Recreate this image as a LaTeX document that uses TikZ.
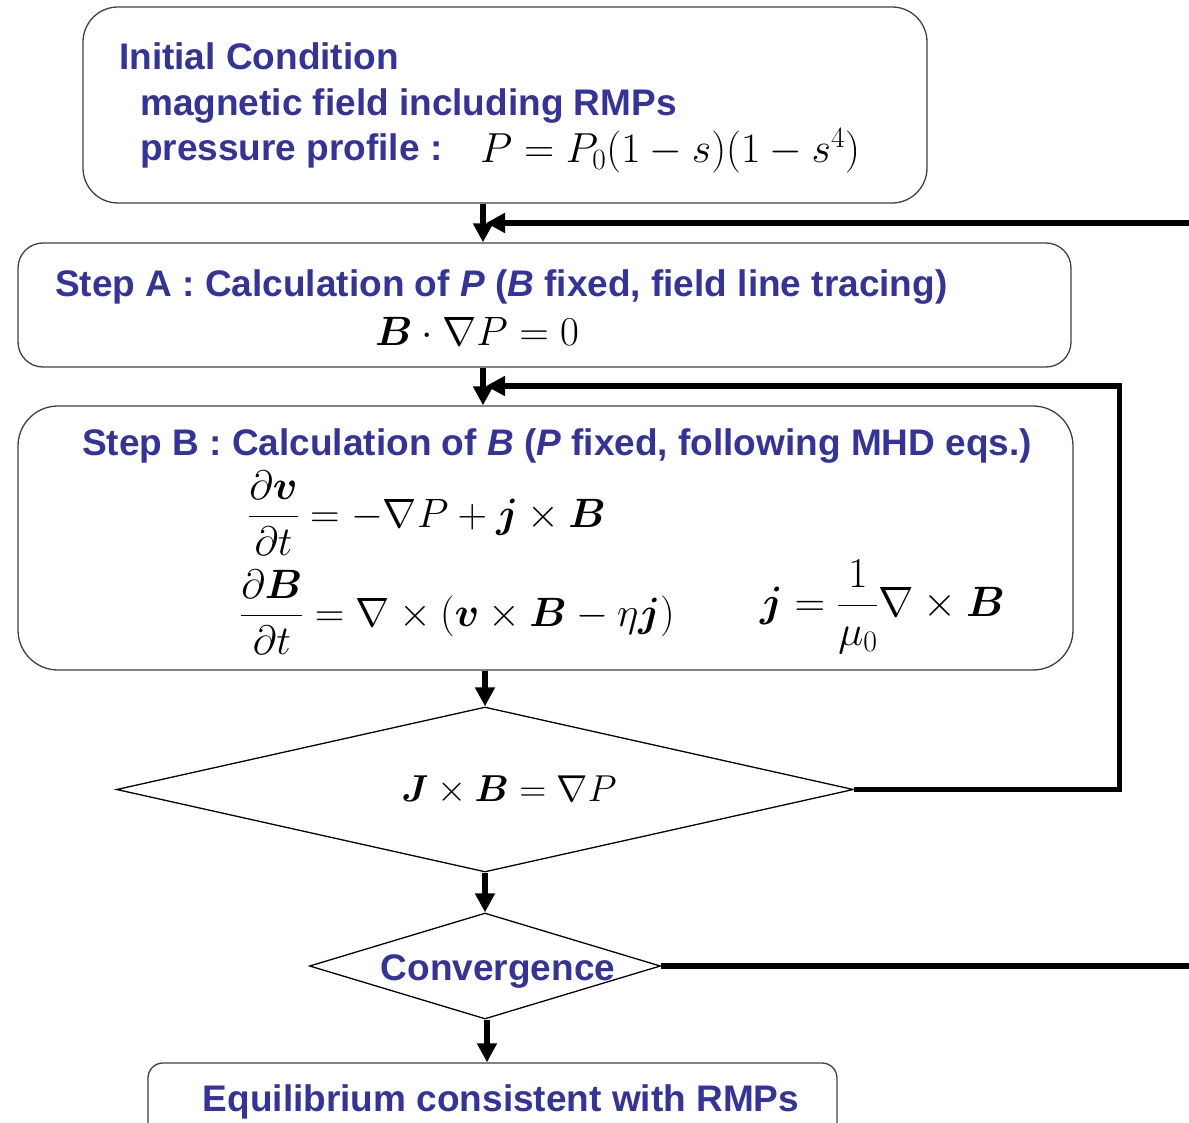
\RequirePackage{fix-cm}
\documentclass[tikz,border=0pt]{standalone}
\usepackage[no-math]{fontspec}
\setmainfont{Liberation Sans}
\usepackage{amsmath,bm}
\usetikzlibrary{arrows.meta,shapes.geometric}
\definecolor{tblue}{RGB}{51,51,153}
\DeclareMathSizes{41}{41}{29}{21}
\begin{document}
\begin{tikzpicture}[x=1pt,y=-1pt,
  box/.style={draw=black!75, line width=1.3pt, inner sep=0pt},
  dia/.style={draw=black, line width=1.3pt, diamond, inner sep=0pt},
  txt/.style={text=tblue, font=\fontsize{37}{44}\selectfont\bfseries, inner sep=0pt, anchor=base west},
  mth/.style={font=\fontsize{41}{48}\selectfont, inner sep=0pt},
  arr/.style={line width=5.5pt, -{Triangle[width=19pt,length=19pt]}},
  thk/.style={line width=5.5pt}]
\useasboundingbox (0,0) rectangle (1189,1123);
\clip (0,0) rectangle (1189,1123);

% boxes
\node[box, rounded corners=35pt, minimum width=844pt, minimum height=196pt] (init) at (505,105) {};
\node[box, rounded corners=25pt, minimum width=1053pt, minimum height=124pt] (stepa) at (544.5,305) {};
\node[box, rounded corners=40pt, minimum width=1055pt, minimum height=264pt] (stepb) at (545.5,538) {};
\node[dia, minimum width=737pt, minimum height=165pt] (d1) at (485,789.5) {};
\node[dia, minimum width=351pt, minimum height=106pt] (d2) at (485,966) {};
\node[box, rounded corners=15pt, minimum width=689pt, minimum height=120pt] (eq) at (492.5,1123) {};

% texts
\node[txt] (t1) at (119,70) {Initial Condition};
\node[txt] (t2) at (140,116) {magnetic field including RMPs};
\node[txt] (t3) at (140,161) {pressure profile :};
\node[mth, font=\fontsize{42}{48}\selectfont, anchor=base west] (m1) at (480,163) {$P=P_0(1-s)(1-s^4)$};

\node[txt] (ta) at (55,297) {Step A : Calculation of \textit{P} (\textit{B} fixed, field line tracing)};
\node[mth, anchor=base west] (ma) at (375,345) {$\bm B\cdot\nabla P=0$};

\node[txt] (tb) at (82,455) {Step B : Calculation of \textit{B} (\textit{P} fixed, following MHD eqs.)};
\node[mth, anchor=west] (e1) at (248,513) {$\dfrac{\partial\bm v}{\partial t}=-\nabla P+\bm j\times\bm B$};
\node[mth, anchor=west] (e2) at (240,612) {$\dfrac{\partial\bm B}{\partial t}=\nabla\times(\bm v\times\bm B-\eta\bm j)$};
\node[mth, font=\fontsize{42.5}{48}\selectfont, anchor=west] (e3) at (760,607) {$\bm j=\dfrac{1}{\mu_0}\nabla\times\bm B$};

\node[mth, font=\fontsize{37.5}{44}\selectfont] (dt1) at (509,790) {$\bm J\times\bm B=\nabla P$};
\node[txt, anchor=base] (conv) at (498,980) {Convergence};
\node[txt, anchor=base] (teq) at (501,1111) {Equilibrium consistent with RMPs};

% helper coordinates
\coordinate (c483) at (483,0);
\coordinate (c487) at (487,0);
\coordinate (cr) at (1119.5,0);
\coordinate (rin) at (1200,223);
\coordinate (tip1) at (486,223);
\coordinate (tip2) at (486,386);
\coordinate (rout) at (1200,966);

% main flow
\draw[arr] (init.south -| c483) -- (stepa.north -| c483);
\draw[arr] (stepa.south -| c483) -- (stepb.north -| c483);
\draw[arr] (stepb.south -| d1.north) -- (d1.north);
\draw[arr] (d1.south) -- (d2.north);
\draw[arr] (d2.south -| c487) -- (eq.north -| c487);

% feedback loops
\draw[arr] (rin) -- (tip1);
\draw[arr] (d1.east) -- (d1.east -| cr) -- (tip2 -| cr) -- (tip2);
\draw[thk] (d2.east) -- (rout);
\end{tikzpicture}
\end{document}
